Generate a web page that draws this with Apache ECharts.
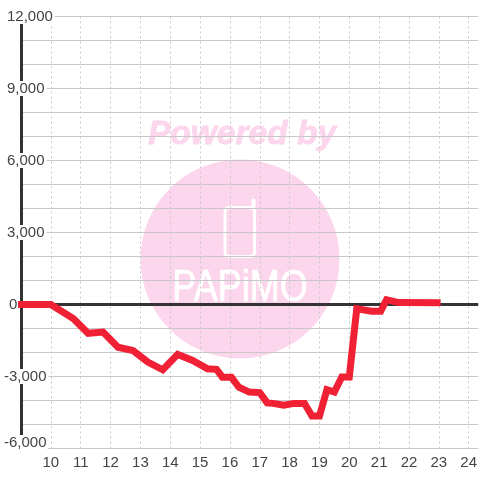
<!DOCTYPE html>
<html><head><meta charset="utf-8">
<style>html,body{margin:0;padding:0;background:#fff}#c{width:480px;height:480px}</style>
<script src="https://cdn.jsdelivr.net/npm/echarts@6/dist/echarts.min.js"></script>
</head><body><div id="c"></div>
<script>
const hours = [8.9,10,10.75,11.25,11.75,12.25,12.75,13.25,13.75,14.25,14.75,15.25,15.55,15.75,16.05,16.3,16.65,17,17.25,17.45,17.8,18.15,18.5,18.75,19,19.25,19.5,19.75,20,20.25,20.75,21.05,21.25,21.65,23.06];
const values = [0,0,-580,-1200,-1150,-1780,-1920,-2400,-2720,-2080,-2330,-2680,-2700,-3030,-3030,-3450,-3650,-3670,-4100,-4120,-4200,-4120,-4120,-4650,-4650,-3550,-3650,-3020,-3020,-180,-280,-280,200,80,70];
const fmt = v => v.toLocaleString('en-US');
const line = values.map((v,i)=>[hours[i],v]);
const grey='#c8c8c8', ink='#444', pink='#fcd6ec';
const chart = echarts.init(document.getElementById('c'),null,{renderer:'canvas'});
const labelFont={fontFamily:'Liberation Sans',fontSize:15,color:ink,backgroundColor:'#fff'};
chart.setOption({
  animation:false,
  grid:{left:20.5,right:0,top:16.5,bottom:31.5},
  graphic:{elements:[
    {type:'circle',z:-1,shape:{cx:240,cy:259,r:99.5},style:{fill:pink}},
    {type:'text',z:-1,x:242,y:135,style:{text:'Powered by',font:'italic bold 33.5px "Liberation Sans"',fill:pink,stroke:pink,lineWidth:0.8,align:'center',verticalAlign:'middle'}},
    {type:'rect',z:-1,shape:{x:225,y:207.5,width:29.5,height:49,r:4},style:{fill:'none',stroke:'#fff',lineWidth:3}},
    {type:'line',z:-1,shape:{x1:253.5,y1:200.5,x2:253.5,y2:208},style:{stroke:'#fff',lineWidth:4,lineCap:'round'}},
    {type:'text',z:-1,x:240,y:289,scaleY:1.23,style:{text:'PAPiMO',font:'36px "Liberation Sans"',fill:'#fff',stroke:'#fff',lineWidth:0.6,align:'center',verticalAlign:'middle',letterSpacing:3}}
  ]},
  xAxis:[
    {type:'value',min:9,max:24.32,interval:1,z:0,
      axisLine:{show:false},axisTick:{show:false},axisLabel:{show:false},
      splitLine:{showMinLine:false,showMaxLine:false,lineStyle:{color:grey,type:[2,3],width:1}}},
    {type:'value',min:9,max:24.32,interval:1,z:5,position:'bottom',
      axisLine:{show:false},axisTick:{show:false},splitLine:{show:false},
      axisLabel:{showMinLabel:false,showMaxLabel:false,margin:7,fontFamily:'Liberation Sans',fontSize:15,color:ink}}
  ],
  yAxis:[
    {type:'value',min:-6000,max:12000,interval:1000,z:0,
      axisLine:{show:false},axisTick:{show:false},axisLabel:{show:false},
      splitLine:{lineStyle:{color:grey,width:1}}},
    {type:'value',min:-6000,max:12000,interval:3000,z:3,position:'left',
      axisLine:{show:true,onZero:false,lineStyle:{color:'#333',width:3}},axisTick:{show:false},splitLine:{show:false},
      axisLabel:{margin:18,align:'left',
        formatter:v=>{
          if(v===-6000) return '{b|'+fmt(v)+'}';
          if(v<0) return '{n|'+fmt(v)+'}';
          if(v===0) return '{z|0}';
          return '{a|'+fmt(v)+'}';
        },
        rich:{
          a:{...labelFont,padding:[0,2,0,4]},
          z:{...labelFont,padding:[0,2,0,6]},
          n:{...labelFont,padding:[0,2,0,1]},
          b:{...labelFont,padding:[0,1,12,1]}
        }}}
  ],
  series:[{type:'line',xAxisIndex:0,yAxisIndex:0,z:4,data:line,showSymbol:false,silent:true,clip:false,
    lineStyle:{color:'#f02035',width:7,join:'miter',cap:'butt'},
    markLine:{silent:true,symbol:'none',label:{show:false},z:3,lineStyle:{color:'#333',width:3,type:'solid'},data:[{yAxis:0}]}}]
});
</script></body></html>
